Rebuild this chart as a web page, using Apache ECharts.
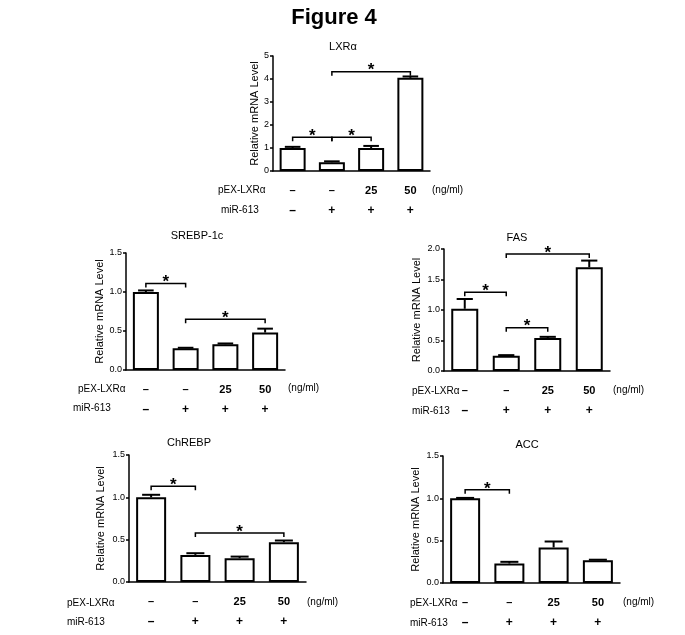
<!DOCTYPE html>
<html>
<head>
<meta charset="utf-8">
<script src="https://cdn.jsdelivr.net/npm/echarts@6/dist/echarts.min.js"></script>
<style>
  html, body { margin: 0; padding: 0; background: #fff; }
  #main { width: 685px; height: 635px; }
</style>
</head>
<body>
<div id="main"></div>
<script>
// 处理组：对照 / miR-613 / miR-613 + pEX-LXRα 25 / 50 ng/ml
const categories = ['ctrl', 'miR', 'miR+25', 'miR+50']
const pexLabels = ['–', '–', '25', '50']
const mirLabels = ['–', '+', '+', '+']

// 均值与误差（SEM，只画上半）
const lxrMean = [1.0, 0.38, 1.0, 4.05]
const lxrErr = [0.05, 0.04, 0.09, 0.06]
const srebpMean = [1.0, 0.28, 0.33, 0.48]
const srebpErr = [0.02, 0.005, 0.01, 0.05]
const fasMean = [1.02, 0.25, 0.54, 1.70]
const fasErr = [0.16, 0.01, 0.02, 0.11]
const chrebpMean = [1.0, 0.32, 0.28, 0.47]
const chrebpErr = [0.03, 0.02, 0.02, 0.02]
const accMean = [1.0, 0.23, 0.42, 0.27]
const accErr = [0.005, 0.02, 0.07, 0.005]

// 显著性标记：[起始组, 结束组, 高度]
const lxrSig = [[0, 1, 1.47], [1, 2, 1.47], [1, 3, 4.32]]
const srebpSig = [[0, 1, 1.11], [1, 3, 0.65]]
const fasSig = [[0, 1, 1.29], [1, 2, 0.71], [1, 3, 1.92]]
const chrebpSig = [[0, 1, 1.13], [1, 3, 0.58]]
const accSig = [[0, 1, 1.10]]

const FONT = '"Liberation Sans", Arial, sans-serif'

const panels = [
  {name: 'LXRα', mean: lxrMean, err: lxrErr, sig: lxrSig, max: 5, interval: 1, digits: 0,
   grid: {left: 273, top: 56, width: 157, height: 115}, barW: 26, nameGap: 12,
   title: [343, 47], pex: [218, 190], mir: [221, 210], unit: [432, 190]},
  {name: 'SREBP-1c', mean: srebpMean, err: srebpErr, sig: srebpSig, max: 1.5, interval: 0.5, digits: 1,
   grid: {left: 126, top: 253, width: 159, height: 117}, barW: 26, nameGap: 21,
   title: [197, 236], pex: [78, 389], mir: [73, 408], unit: [288, 388]},
  {name: 'FAS', mean: fasMean, err: fasErr, sig: fasSig, max: 2, interval: 0.5, digits: 1,
   grid: {left: 444, top: 249, width: 166, height: 122}, barW: 27, nameGap: 22,
   title: [517, 238], pex: [412, 391], mir: [412, 411], unit: [613, 390]},
  {name: 'ChREBP', mean: chrebpMean, err: chrebpErr, sig: chrebpSig, max: 1.5, interval: 0.5, digits: 1,
   grid: {left: 129, top: 455, width: 177, height: 127}, barW: 30, nameGap: 23,
   title: [189, 443], pex: [67, 603], mir: [67, 622], unit: [307, 602]},
  {name: 'ACC', mean: accMean, err: accErr, sig: accSig, max: 1.5, interval: 0.5, digits: 1,
   grid: {left: 443, top: 456, width: 177, height: 127}, barW: 30, nameGap: 22,
   title: [527, 445], pex: [410, 603], mir: [410, 623], unit: [623, 602]}
]

const myChart = echarts.init(document.getElementById('main'))

const graphic = [
  {type: 'text', x: 334, y: 18,
   style: {text: 'Figure 4', font: 'bold 22px ' + FONT, fill: '#000', textAlign: 'center', textVerticalAlign: 'middle'}}
]
const series = []

panels.forEach((p, i) => {
  graphic.push(
    {type: 'text', x: p.title[0], y: p.title[1],
     style: {text: p.name, font: '11px ' + FONT, fill: '#000', textAlign: 'center', textVerticalAlign: 'middle'}},
    {type: 'text', x: p.pex[0], y: p.pex[1],
     style: {text: 'pEX-LXRα', font: '10px ' + FONT, fill: '#000', textAlign: 'left', textVerticalAlign: 'middle'}},
    {type: 'text', x: p.mir[0], y: p.mir[1],
     style: {text: 'miR-613', font: '10px ' + FONT, fill: '#000', textAlign: 'left', textVerticalAlign: 'middle'}},
    {type: 'text', x: p.unit[0], y: p.unit[1],
     style: {text: '(ng/ml)', font: '10px ' + FONT, fill: '#000', textAlign: 'left', textVerticalAlign: 'middle'}}
  )

  // 柱子
  series.push({
    type: 'bar', xAxisIndex: i, yAxisIndex: i, data: p.mean,
    barWidth: p.barW, silent: true,
    itemStyle: {color: '#fff', borderColor: '#000', borderWidth: 2}
  })

  // 误差线
  series.push({
    type: 'custom', xAxisIndex: i, yAxisIndex: i, silent: true, z: 3,
    data: p.mean.map((m, j) => [j, m, m + p.err[j]]),
    encode: {x: 0, y: [1, 2]},
    renderItem: (params, api) => {
      const base = api.coord([api.value(0), api.value(1)])
      const top = api.coord([api.value(0), api.value(2)])
      const hw = p.barW * 0.3
      return {type: 'group', children: [
        {type: 'line', shape: {x1: base[0], y1: base[1], x2: top[0], y2: top[1]},
         style: {stroke: '#000', lineWidth: 2}},
        {type: 'line', shape: {x1: top[0] - hw, y1: top[1], x2: top[0] + hw, y2: top[1]},
         style: {stroke: '#000', lineWidth: 2}}
      ]}
    }
  })

  // 显著性括号和星号
  series.push({
    type: 'custom', xAxisIndex: i, yAxisIndex: i, silent: true, z: 4,
    data: p.sig,
    encode: {x: [0, 1], y: 2},
    renderItem: (params, api) => {
      const a = api.coord([api.value(0), api.value(2)])
      const b = api.coord([api.value(1), api.value(2)])
      return {type: 'group', children: [
        {type: 'polyline', shape: {points: [[a[0], a[1] + 4], a, b, [b[0], b[1] + 4]]},
         style: {stroke: '#000', lineWidth: 1.5, fill: null}},
        {type: 'text', x: (a[0] + b[0]) / 2, y: a[1] - 1,
         style: {text: '*', font: 'bold 17px ' + FONT, fill: '#000', textAlign: 'center', textVerticalAlign: 'middle'}}
      ]}
    }
  })
})

const option = {
  animation: false,
  textStyle: {fontFamily: FONT},
  graphic: graphic,
  grid: panels.map(p => Object.assign({containLabel: false}, p.grid)),
  xAxis: panels.map((p, i) => ({
    type: 'category', gridIndex: i, data: categories,
    axisLine: {lineStyle: {color: '#000', width: 1.5}},
    axisTick: {alignWithLabel: true, length: 4, lineStyle: {color: '#000', width: 1.5}},
    axisLabel: {
      interval: 0, hideOverlap: false,
      margin: 10, color: '#000',
      formatter: (v, idx) => `{a|${pexLabels[idx]}}\n{b|${mirLabels[idx]}}`,
      rich: {
        a: {fontSize: 11, fontWeight: 'bold', lineHeight: 20, fontFamily: FONT, color: '#000'},
        b: {fontSize: 12, fontWeight: 'bold', lineHeight: 20, fontFamily: FONT, color: '#000'}
      }
    }
  })),
  yAxis: panels.map((p, i) => ({
    type: 'value', gridIndex: i, min: 0, max: p.max, interval: p.interval,
    name: 'Relative mRNA Level', nameLocation: 'middle', nameGap: p.nameGap, nameRotate: 90,
    nameTextStyle: {fontSize: 11, color: '#000', fontFamily: FONT},
    axisLine: {show: true, lineStyle: {color: '#000', width: 1.5}},
    axisTick: {show: true, length: 3, lineStyle: {color: '#000', width: 1.5}},
    axisLabel: {fontSize: 9, color: '#000', margin: 4, formatter: v => v.toFixed(p.digits)},
    splitLine: {show: false}
  })),
  series: series
}

// 使用刚指定的配置项和数据显示图表。
myChart.setOption(option)
</script>
</body>
</html>
